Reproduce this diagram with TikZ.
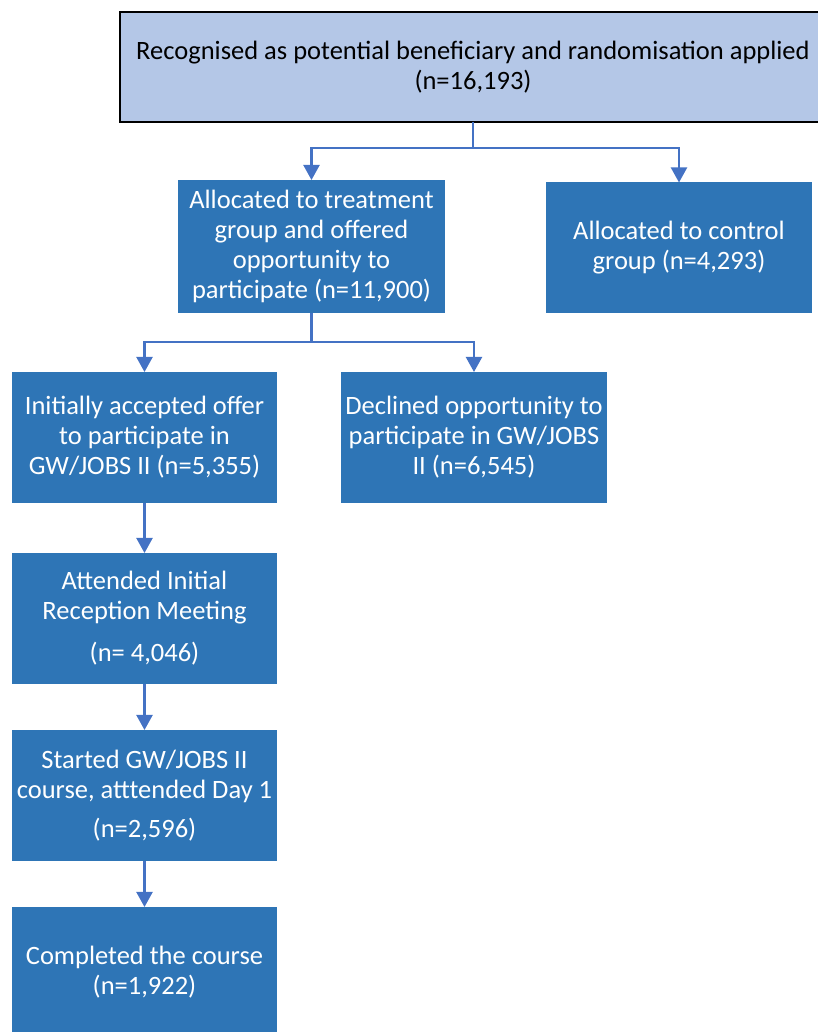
\documentclass[tikz,border=0pt]{standalone}
\usepackage{fontspec}
\setmainfont{Carlito}
\usepackage{tikz}
\usetikzlibrary{arrows.meta, positioning}
\definecolor{stepblue}{HTML}{2E75B6}
\definecolor{headblue}{HTML}{B4C7E7}
\definecolor{linkblue}{HTML}{4472C4}

\begin{document}
\begin{tikzpicture}[
        x=1pt, y=1pt,
        font=\fontsize{26.5}{30}\selectfont,
        >={Triangle[length=15pt, width=16pt]},
        box/.style={fill=stepblue, text=white, align=center, outer sep=0pt, inner sep=2pt, minimum width=265pt, minimum height=131pt},
        head/.style={draw=black, line width=2.5pt, fill=headblue, text=black, align=center, outer sep=0pt, minimum width=706pt, minimum height=110pt},
        link/.style={->, line width=2.2pt, draw=linkblue}
    ]
        \useasboundingbox (0,0) rectangle (817,1032);

        \node[head] (recog) at (473,965) {
            Recognised as potential beneficiary and randomisation applied\\
            (n=16,193)
        };

        \node[box, minimum width=267pt, minimum height=133pt] (treat) at (311.5,785.5) {
            Allocated to treatment\\
            group and offered\\
            opportunity to\\
            participate (n=11,900)
        };
        \node[box, minimum width=266pt] (control) at (679,784) {
            Allocated to control\\
            group (n=4,293)
        };

        \node[box] (accept) at (144.5,594.5) {
            Initially accepted offer\\
            to participate in\\
            GW/JOBS II (n=5,355)
        };
        \node[box, minimum width=266pt] (decline) at (474,594.5) {
            Declined opportunity to\\
            participate in GW/JOBS\\
            II (n=6,545)
        };

        \node[box, below=50pt of accept] (attend) {
            Attended Initial\\
            Reception Meeting\\[12pt]
            (n= 4,046)
        };
        \node[box, below=46pt of attend] (start) {
            Started GW/JOBS II\\
            course, atttended Day 1\\[9pt]
            (n=2,596)
        };
        \node[box, below=46pt of start] (complete) {
            Completed the course\\
            (n=1,922)
        };

        % randomisation split
        \draw[link] (recog.south) -- ++(0,-26) -| (treat.north);
        \draw[link] (recog.south) -- ++(0,-26) -| (control.north);
        % offer split
        \draw[link] (treat.south) -- ++(0,-29) -| (accept.north);
        \draw[link] (treat.south) -- ++(0,-29) -| (decline.north);
        % participation chain
        \draw[link] (accept) -- (attend);
        \draw[link] (attend) -- (start);
        \draw[link] (start) -- (complete);
    \end{tikzpicture}
\end{document}
